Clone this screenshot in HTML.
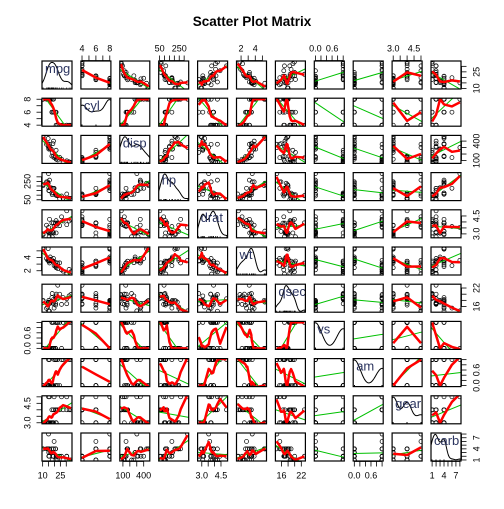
<!DOCTYPE html>
<html><head><meta charset="utf-8"><style>
body{margin:0;background:#fff;}
svg text{font-family:"Liberation Sans",sans-serif;}
</style></head><body>
<svg id="chart" width="504" height="504" xmlns="http://www.w3.org/2000/svg">
<rect width="504" height="504" fill="#fff"/>
<text x="252" y="26" text-anchor="middle" font-size="13.5" font-weight="bold">Scatter Plot Matrix</text>
<g id="g"></g>
</svg>
<script>
const varNames=["mpg","cyl","disp","hp","drat","wt","qsec","vs","am","gear","carb"];
const mpg=[21,21,22.8,21.4,18.7,18.1,14.3,24.4,22.8,19.2,17.8,16.4,17.3,15.2,10.4,10.4,14.7,32.4,30.4,33.9,21.5,15.5,15.2,13.3,19.2,27.3,26,30.4,15.8,19.7,15,21.4];
const cyl=[6,6,4,6,8,6,8,4,4,6,6,8,8,8,8,8,8,4,4,4,4,8,8,8,8,4,4,4,8,6,8,4];
const disp=[160,160,108,258,360,225,360,146.7,140.8,167.6,167.6,275.8,275.8,275.8,472,460,440,78.7,75.7,71.1,120.1,318,304,350,400,79,120.3,95.1,351,145,301,121];
const hp=[110,110,93,110,175,105,245,62,95,123,123,180,180,180,205,215,230,66,52,65,97,150,150,245,175,66,91,113,264,175,335,109];
const drat=[3.9,3.9,3.85,3.08,3.15,2.76,3.21,3.69,3.92,3.92,3.92,3.07,3.07,3.07,2.93,3,3.23,4.08,4.93,4.22,3.7,2.76,3.15,3.73,3.08,4.08,4.43,3.77,4.22,3.62,3.54,4.11];
const wt=[2.62,2.875,2.32,3.215,3.44,3.46,3.57,3.19,3.15,3.44,3.44,4.07,3.73,3.78,5.25,5.424,5.345,2.2,1.615,1.835,2.465,3.52,3.435,3.84,3.845,1.935,2.14,1.513,3.17,2.77,3.57,2.78];
const qsec=[16.46,17.02,18.61,19.44,17.02,20.22,15.84,20,22.9,18.3,18.9,17.4,17.6,18,17.98,17.82,17.42,19.47,18.52,19.9,20.01,16.87,17.3,15.41,17.05,18.9,16.7,16.9,14.5,15.5,14.6,18.6];
const vs=[0,0,1,1,0,1,0,1,1,1,1,0,0,0,0,0,0,1,1,1,1,0,0,0,0,1,0,1,0,0,0,1];
const am=[1,1,1,0,0,0,0,0,0,0,0,0,0,0,0,0,0,1,1,1,0,0,0,0,0,1,1,1,1,1,1,1];
const gear=[4,4,4,3,3,3,3,4,4,4,4,3,3,3,3,3,3,4,4,4,3,3,3,3,3,4,5,5,5,5,5,4];
const carb=[4,4,1,1,2,1,4,2,2,4,4,3,3,3,4,4,4,1,2,1,1,2,2,4,2,1,2,2,4,6,8,2];
const tickLabels=[[10,25],[4,6,8],[100,400],[50,250],[3.0,4.5],[2,4],[16,22],[0.0,0.6],[0.0,0.6],[3.0,4.5],[1,4,7]];
const tickMinor=[[10,15,20,25,30],[4,5,6,7,8],[100,200,300,400],[50,100,150,200,250,300],[3.0,3.5,4.0,4.5],[2,3,4,5],[16,18,20,22],[0,0.2,0.4,0.6,0.8,1],[0,0.2,0.4,0.6,0.8,1],[3.0,3.5,4.0,4.5,5],[1,2,3,4,5,6,7,8]];
const cols=[mpg,cyl,disp,hp,drat,wt,qsec,vs,am,gear,carb];
const X0=42,SX=38.9,W=30,Y0=61,SY=37.2,H=28,N=11;
const ns="http://www.w3.org/2000/svg",G=document.getElementById('g');
function mk(t,a,p){const e=document.createElementNS(ns,t);for(const k in a)e.setAttribute(k,a[k]);(p||G).appendChild(e);return e;}
const rng=cols.map(c=>{const mn=Math.min(...c),mx=Math.max(...c),d=(mx-mn)*0.04;return[mn-d,mx+d];});
function sx(j,v){const r=rng[j];return X0+j*SX+(v-r[0])/(r[1]-r[0])*W;}
function sy(i,v){const r=rng[i];return Y0+i*SY+H-(v-r[0])/(r[1]-r[0])*H;}
function smooth(x,y){
  const n=x.length,idx=[...x.keys()].sort((a,b)=>x[a]-x[b]);const ux=[...new Set(idx.map(k=>x[k]))];
  const k=Math.max(3,Math.round(n*0.4));const out=[];
  ux.forEach(x0=>{const d=x.map(v=>Math.abs(v-x0));const h=[...d].sort((a,b)=>a-b)[k-1]||1e-9;
    let sw=0,swx=0,swy=0,swxx=0,swxy=0;
    for(let t=0;t<n;t++){const u=d[t]/(h*1.0001);if(u>=1)continue;const w=Math.pow(1-u*u*u,3);sw+=w;swx+=w*x[t];swy+=w*y[t];swxx+=w*x[t]*x[t];swxy+=w*x[t]*y[t];}
    const mx=swx/sw,my=swy/sw,vx=swxx/sw-mx*mx;const b=vx>1e-9?(swxy/sw-mx*my)/vx:0;out.push([x0,my+b*(x0-mx)]);});
  return out;}
for(let i=0;i<N;i++)for(let j=0;j<N;j++){
  const px=X0+j*SX,py=Y0+i*SY;
  const g=mk('g',{'clip-path':'url(#c'+i+'_'+j+')'});
  
  
  const cp=mk('clipPath',{id:'c'+i+'_'+j});mk('rect',{x:px,y:py,width:W,height:H},cp);
  const xs=cols[j],ys=cols[i];
  if(i===j){
    const n=xs.length,m=xs.reduce((a,b)=>a+b)/n,sd=Math.sqrt(xs.reduce((a,b)=>a+(b-m)*(b-m),0)/(n-1));
    const s=[...xs].sort((a,b)=>a-b),iqr=(s[24]-s[7]);const bw=0.9*Math.min(sd,iqr/1.34||sd)*Math.pow(n,-0.2);
    const r=rng[j],pts=[];let mxd=0;
    for(let t=0;t<=60;t++){const v=r[0]+(r[1]-r[0])*t/60;let d=0;xs.forEach(q=>d+=Math.exp(-0.5*((v-q)/bw)**2));pts.push([v,d]);mxd=Math.max(mxd,d);}
    const dl=mk('polyline',{points:pts.map(p=>[sx(j,p[0]),py+H-p[1]/mxd*H*0.95].join(',')).join(' '),fill:'none',stroke:'#000','stroke-width':1},g);
    
    
    xs.forEach(v=>mk('line',{x1:sx(j,v),x2:sx(j,v),y1:py+H,y2:py+H-1.5,stroke:'#000','stroke-width':0.6},g));
    const lb=mk('text',{x:px+3,y:py+12,'font-size':13,fill:'#2c3560'});lb.textContent=varNames[i];
    
    
  } else {
    xs.forEach((v,t)=>{const c=mk('circle',{cx:sx(j,v),cy:sy(i,ys[t]),r:2,fill:'none',stroke:'#000','stroke-width':0.7},g);
      
      });
    const n=xs.length,mx=xs.reduce((a,b)=>a+b)/n,my=ys.reduce((a,b)=>a+b)/n;let sxy=0,sxx=0;
    xs.forEach((v,t)=>{sxy+=(v-mx)*(ys[t]-my);sxx+=(v-mx)**2;});const b=sxy/sxx,a=my-b*mx,r=rng[j];
    const ln=mk('line',{x1:sx(j,r[0]),y1:sy(i,a+b*r[0]),x2:sx(j,r[1]),y2:sy(i,a+b*r[1]),stroke:'#00c000','stroke-width':1},g);
    
    
    if(new Set(xs).size>2){
      const sm=smooth(xs,ys);
      const pl=mk('polyline',{points:sm.map(p=>sx(j,p[0])+','+sy(i,p[1])).join(' '),fill:'none',stroke:'#ff0000','stroke-width':2.5,'stroke-linejoin':'round'},g);
      
      
    }
  }
  const fr=mk('rect',{x:px,y:py,width:W,height:H,fill:'none',stroke:'#000','stroke-width':1.2});
  
  
}
for(let k=0;k<N;k++){
  const r=rng[k],inR=v=>v>=r[0]-1e-9&&v<=r[1]+1e-9;
  const top=(k%2===1);
  const ya=top?Y0-0.5:Y0+10*SY+H+0.5,dir=top?-1:1;
  const ax=mk('g',{});
  
  
  const tv=tickMinor[k].filter(inR);
  mk('line',{x1:sx(k,tv[0]),x2:sx(k,tv[tv.length-1]),y1:ya,y2:ya,stroke:'#000','stroke-width':0.8},ax);
  tv.forEach(v=>mk('line',{x1:sx(k,v),x2:sx(k,v),y1:ya,y2:ya+dir*5,stroke:'#000','stroke-width':0.8},ax));
  tickLabels[k].forEach(v=>{const t=mk('text',{x:sx(k,v),y:top?ya-9:ya+17,'text-anchor':'middle','font-size':9},ax);t.textContent=(k===4||k===7||k===8||k===9)?v.toFixed(1):v;});
  const left=(k%2===1),xa=left?X0-0.5:X0+10*SX+W+0.5,dx=left?-1:1;
  const ay=mk('g',{});
  
  
  mk('line',{x1:xa,x2:xa,y1:sy(k,tv[0]),y2:sy(k,tv[tv.length-1]),stroke:'#000','stroke-width':0.8},ay);
  tv.forEach(v=>mk('line',{x1:xa,x2:xa+dx*5,y1:sy(k,v),y2:sy(k,v),stroke:'#000','stroke-width':0.8},ay));
  tickLabels[k].forEach(v=>{const tx=left?xa-11:xa+18,t=mk('text',{x:tx,y:sy(k,v),'text-anchor':'middle','font-size':9,transform:'rotate(-90 '+tx+' '+sy(k,v)+')'},ay);t.textContent=(k===4||k===7||k===8||k===9)?v.toFixed(1):v;});
}
</script>
</body></html>
